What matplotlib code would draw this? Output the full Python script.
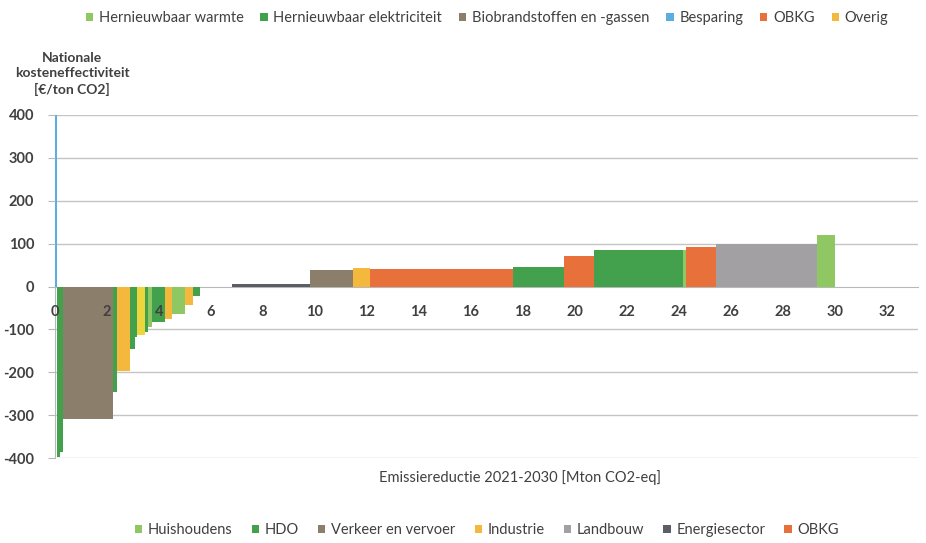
import matplotlib
matplotlib.use("Agg")
import matplotlib.pyplot as plt
from matplotlib.patches import Patch
import numpy as np

plt.rcParams['font.family'] = ['Lato', 'DejaVu Sans']
plt.rcParams['axes.unicode_minus'] = False

# ---- data ----
# width of each measure (Mton CO2-eq) and national cost effectiveness (EUR/ton CO2)
widths = [0.08, 0.13, 0.11, 1.92, 0.13, 0.51, 0.20, 0.09, 0.29, 0.10, 0.16, 0.51, 0.26,
          0.51, 0.30, 0.28, 1.22, 3.00, 1.65, 0.67, 5.51, 1.97, 1.14, 3.43, 0.10, 1.15,
          3.90, 0.68]
costs = [400, -398, -385, -310, -246, -197, -145, -118, -114, -106, -95, -83, -75,
         -63, -44, -21, 0, 5, 39, 42, 41, 45, 72, 86, 86, 93, 98, 121]
groups = ['blue', 'green', 'green', 'brown', 'green', 'yellow', 'green', 'green', 'gold',
          'green', 'lightgreen', 'green', 'yellow', 'lightgreen', 'yellow', 'green', 'none',
          'darkgrey', 'brown', 'yellow', 'orange', 'green', 'orange', 'green', 'lightgreen',
          'orange', 'grey', 'lightgreen']

top_legend = ['Hernieuwbaar warmte', 'Hernieuwbaar elektriciteit', 'Biobrandstoffen en -gassen',
              'Besparing', 'OBKG', 'Overig']
top_legend_groups = ['lightgreen', 'green', 'brown', 'blue', 'orange', 'yellow']
bottom_legend = ['Huishoudens', 'HDO', 'Verkeer en vervoer', 'Industrie', 'Landbouw',
                 'Energiesector', 'OBKG']
bottom_legend_groups = ['lightgreen', 'green', 'brown', 'yellow', 'grey', 'darkgrey', 'orange']

xticks = list(range(0, 33, 2))
yticks = list(range(-400, 401, 100))

palette = {
    'lightgreen': '#8fc862',
    'green': '#43a04d',
    'brown': '#8b7f6c',
    'yellow': '#f4b83c',
    'gold': '#eed53e',
    'grey': '#a2a0a2',
    'darkgrey': '#5a5f66',
    'orange': '#e8703a',
    'blue': '#5aaee0',
    'none': 'none',
}

fig = plt.figure(figsize=(9.26, 5.43), dpi=100)
ax = fig.add_axes([55 / 926, 1 - 458 / 543, (918 - 55) / 926, (458 - 115) / 543])

lefts = np.concatenate([[0], np.cumsum(widths)[:-1]])
ax.bar(lefts, costs, width=widths, align='edge',
       color=[palette[g] for g in groups], linewidth=0, zorder=1)

for y in yticks:
    if y != 0:
        ax.axhline(y, color='#c4c4c4', linewidth=1.0, zorder=0.5)

ax.set_xlim(0, 33.2)
ax.set_ylim(-400, 400)
ax.set_xticks(xticks)
ax.set_yticks(yticks)
ax.set_xticklabels([str(t) for t in xticks])
ax.set_yticklabels([str(t) for t in yticks])

for s in ['top', 'right']:
    ax.spines[s].set_visible(False)
ax.spines['bottom'].set_position(('data', 0))
ax.spines['bottom'].set_color('#b8b8b8')
ax.spines['left'].set_color('#b8b8b8')
ax.spines['bottom'].set_zorder(0.6)
ax.spines['left'].set_zorder(0.6)

ax.tick_params(axis='x', length=0, pad=13, labelsize=10.5, labelcolor='#404040')
ax.tick_params(axis='y', length=5, color='#b8b8b8', pad=10, labelsize=10.5, labelcolor='#404040')
for lab in ax.get_xticklabels() + ax.get_yticklabels():
    lab.set_fontweight('bold')

fig.text(520 / 926, 1 - 478 / 543, 'Emissiereductie 2021-2030 [Mton CO2-eq]',
         ha='center', va='center', fontsize=10.5, color='#404040')
fig.text(72 / 926, 1 - 74 / 543, 'Nationale\nkosteneffectiviteit\n[€/ton CO2]',
         ha='center', va='center', fontsize=10, color='#404040', linespacing=1.35,
         fontweight='bold')

h_top = [Patch(facecolor=palette[g], edgecolor='none') for g in top_legend_groups]
fig.legend(h_top, top_legend, loc='center', bbox_to_anchor=(487 / 926, 1 - 18 / 543),
           ncol=6, frameon=False, fontsize=10.5, handlelength=0.5, handleheight=0.5,
           handletextpad=0.4, columnspacing=1.15, labelcolor='#404040')

h_bot = [Patch(facecolor=palette[g], edgecolor='none') for g in bottom_legend_groups]
fig.legend(h_bot, bottom_legend, loc='center', bbox_to_anchor=(487 / 926, 1 - 530 / 543),
           ncol=7, frameon=False, fontsize=10.5, handlelength=0.5, handleheight=0.5,
           handletextpad=0.4, columnspacing=1.3, labelcolor='#404040')

fig.savefig('out.png', dpi=100, facecolor='white')
